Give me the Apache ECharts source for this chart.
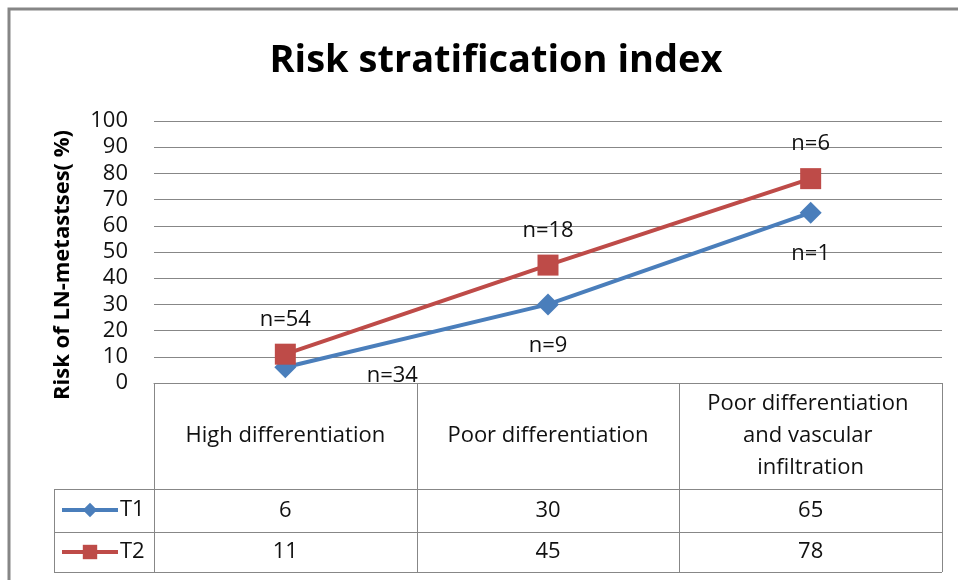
<!DOCTYPE html>
<html><head><meta charset="utf-8">
<script src="https://cdn.jsdelivr.net/npm/echarts@6/dist/echarts.min.js"></script>
<style>html,body{margin:0;padding:0;background:#fff}#c{width:958px;height:580px}</style>
</head><body><div id="c"></div>
<script>
// ---- data ----
const categories = ['High differentiation', 'Poor differentiation', 'Poor differentiation and vascular infiltration'];
const seriesNames = ['T1', 'T2'];
const t1Values = [6, 30, 65];
const t2Values = [11, 45, 78];
const t1Counts = ['n=34', 'n=9', 'n=1'];
const t2Counts = ['n=54', 'n=18', 'n=6'];
const yMin = 0, yMax = 100, yStep = 10;
const chartTitle = 'Risk stratification index';
const yName = 'Risk of LN-metastses( %)';

// ---- style / layout ----
const FONT = "'Open Sans', sans-serif";
const TXT = '#111';
const BLUE = '#4A7EBB', RED = '#BE4B48';
const LINE = '#878787';
const W = 958, H = 580;
const G = { left: 154, right: 16, top: 121, bottom: 197 };
const plotRight = W - G.right;
const axisY = H - G.bottom;
const rowLines = [489, 532, 572];
const tableLeft = 54;

const chart = echarts.init(document.getElementById('c'), null, { renderer: 'canvas' });

function labelOf(counts, extra) {
  return { show: true, fontFamily: FONT, fontSize: 22, color: TXT, formatter: p => counts[p.dataIndex], ...extra };
}

chart.setOption({
  animation: false,
  backgroundColor: '#fff',
  title: {
    text: chartTitle, left: 491, textAlign: 'center', top: 37,
    textStyle: { fontFamily: FONT, fontWeight: 'bold', fontSize: 38, color: '#000' }
  },
  legend: {
    orient: 'vertical', left: 60, top: 499, itemWidth: 56, itemHeight: 18, itemGap: 20, padding: 0,
    data: seriesNames,
    lineStyle: { width: 4 },
    textStyle: { fontFamily: FONT, fontSize: 22, color: TXT, lineHeight: 22, padding: [0, 0, 0, -3] }
  },
  grid: { left: G.left, right: G.right, top: G.top, bottom: G.bottom, containLabel: false },
  xAxis: {
    type: 'category', data: categories, boundaryGap: true,
    axisLine: { show: true, lineStyle: { color: LINE, width: 1 } },
    axisTick: { show: false },
    axisLabel: {
      margin: 53, verticalAlign: 'middle', width: 226, overflow: 'break', lineHeight: 32,
      fontFamily: FONT, fontSize: 22, color: TXT, interval: 0
    }
  },
  yAxis: {
    type: 'value', min: yMin, max: yMax, interval: yStep,
    name: yName, nameLocation: 'middle', nameRotate: 90, nameGap: 80,
    nameTextStyle: { fontFamily: FONT, fontWeight: 'bold', fontSize: 22, color: '#000', padding: [0, 26, 0, 0] },
    axisLine: { show: false }, axisTick: { show: false },
    axisLabel: { margin: 26, fontFamily: FONT, fontSize: 22, color: TXT },
    splitLine: { lineStyle: { color: LINE, width: 1 } }
  },
  series: [
    {
      name: seriesNames[0], type: 'line', symbol: 'diamond', symbolSize: 22,
      data: t1Values.map((v, i) => i === 0 ? { value: v, label: { offset: [107, -33] } } : v),
      lineStyle: { width: 4, color: BLUE }, itemStyle: { color: BLUE },
      label: labelOf(t1Counts, { position: 'bottom', distance: 19 }), z: 3
    },
    {
      name: seriesNames[1], type: 'line', symbol: 'rect', symbolSize: 21,
      data: t2Values,
      lineStyle: { width: 4, color: RED }, itemStyle: { color: RED },
      label: labelOf(t2Counts, { position: 'top', distance: 13 }), z: 4
    }
  ]
});

// ---- data table (borders + value cells) ----
const colEdges = [];
for (let i = 0; i <= categories.length; i++) colEdges.push(G.left + i * (plotRight - G.left) / categories.length);
const gfx = [];
gfx.push({ type: 'rect', shape: { x: 9, y: 9, width: 1200, height: 1000 }, style: { fill: 'none', stroke: '#868686', lineWidth: 3 }, silent: true });
rowLines.forEach(y => gfx.push({ type: 'line', shape: { x1: tableLeft, y1: y + 0.5, x2: plotRight, y2: y + 0.5 }, style: { stroke: LINE, lineWidth: 1 } }));
gfx.push({ type: 'line', shape: { x1: tableLeft + 0.5, y1: rowLines[0], x2: tableLeft + 0.5, y2: rowLines[2] }, style: { stroke: LINE, lineWidth: 1 } });
colEdges.forEach(x => gfx.push({ type: 'line', shape: { x1: Math.round(x) + 0.5, y1: axisY, x2: Math.round(x) + 0.5, y2: rowLines[2] }, style: { stroke: LINE, lineWidth: 1 } }));
const rowCenters = [(rowLines[0] + rowLines[1]) / 2, (rowLines[1] + rowLines[2]) / 2];
[t1Values, t2Values].forEach((vals, r) => {
  vals.forEach((v, i) => {
    const x = chart.convertToPixel({ xAxisIndex: 0 }, categories[i]);
    gfx.push({ type: 'text', x: x, y: rowCenters[r], style: { text: String(v), fontFamily: FONT, fontSize: 22, fill: TXT, align: 'center', verticalAlign: 'middle' } });
  });
});
chart.setOption({ graphic: gfx });
</script>
</body></html>
